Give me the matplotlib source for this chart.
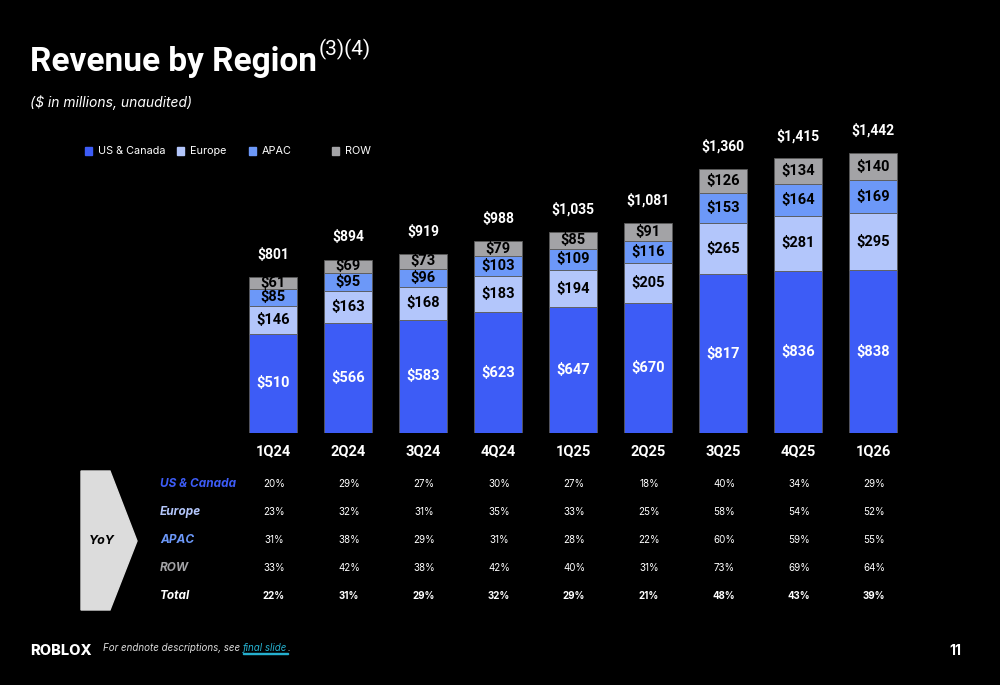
import matplotlib
matplotlib.use('Agg')
import matplotlib.pyplot as plt
from matplotlib.patches import Polygon
import numpy as np

# ---------------------------------------------
# Datos
# ---------------------------------------------
quarters = ['1Q24', '2Q24', '3Q24', '4Q24', '1Q25', '2Q25', '3Q25', '4Q25', '1Q26']
us_canada = [510, 566, 583, 623, 647, 670, 817, 836, 838]
europe = [146, 163, 168, 183, 194, 205, 265, 281, 295]
apac = [85, 95, 96, 103, 109, 116, 153, 164, 169]
row = [61, 69, 73, 79, 85, 91, 126, 134, 140]
totals = [801, 894, 919, 988, 1035, 1081, 1360, 1415, 1442]

yoy_labels = ['US & Canada', 'Europe', 'APAC', 'ROW', 'Total']
yoy_us = [20, 29, 27, 30, 27, 18, 40, 34, 29]
yoy_europe = [23, 32, 31, 35, 33, 25, 58, 54, 52]
yoy_apac = [31, 38, 29, 31, 28, 22, 60, 59, 55]
yoy_row = [33, 42, 38, 42, 40, 31, 73, 69, 64]
yoy_total = [22, 31, 29, 32, 29, 21, 48, 43, 39]

C_US = '#3D5CF6'
C_EU = '#B3C6FB'
C_APAC = '#6C98F8'
C_ROW = '#A3A3A6'

NARROW = ['Roboto', 'DejaVu Sans']
plt.rcParams['font.family'] = ['Inter', 'DejaVu Sans']

W, H = 1000, 685
fig = plt.figure(figsize=(W / 100, H / 100), dpi=100, facecolor='black')

def fx(px):
    return px / W

def fy(py):
    return 1 - py / H

# ---------------------------------------------
# Barras apiladas
# ---------------------------------------------
ax_left, ax_right = 235.5, 910.5
ax_bottom, ax_top = 433, 122.3
ax = fig.add_axes([fx(ax_left), fy(ax_bottom), fx(ax_right - ax_left), (ax_bottom - ax_top) / H])
ax.set_facecolor('black')
ax.set_xlim(-0.5, 8.5)
ax.set_ylim(0, 1600)
ax.axis('off')

x = np.arange(len(quarters))
bw = 0.65
series = [(us_canada, C_US, 'white'), (europe, C_EU, 'black'),
          (apac, C_APAC, 'black'), (row, C_ROW, 'black')]
bottom = np.zeros(len(quarters))
for vals, col, tcol in series:
    vals = np.array(vals)
    ax.bar(x, vals, bw, bottom=bottom, color=col, edgecolor='#5a5a5a', linewidth=0.6)
    for xi, b, v in zip(x, bottom, vals):
        ax.text(xi, b + v / 2, f'${v}', ha='center', va='center', color=tcol,
                fontsize=10.5, fontweight='bold', family=NARROW)
    bottom += vals

for xi, top, t in zip(x, bottom, totals):
    ax.annotate(f'${t:,}', (xi, top), xytext=(0, 16), textcoords='offset points',
                ha='center', va='center', color='white', fontsize=10,
                fontweight='bold', family=NARROW)

for xi, q in zip(x, quarters):
    ax.annotate(q, (xi, 0), xytext=(0, -13), textcoords='offset points',
                ha='center', va='center', color='white', fontsize=10.5,
                fontweight='bold', family=NARROW)

# ---------------------------------------------
# Leyenda
# ---------------------------------------------
leg_items = [('US & Canada', C_US, 88), ('Europe', C_EU, 180),
             ('APAC', C_APAC, 252), ('ROW', C_ROW, 335)]
for name, col, px in leg_items:
    fig.patches.append(plt.Rectangle((fx(px - 3.5), fy(155)), fx(7), 8 / H,
                                     transform=fig.transFigure, color=col))
    fig.text(fx(px + 10), fy(151), name, color='white', fontsize=7.8,
             va='center', ha='left')

# ---------------------------------------------
# Titulo
# ---------------------------------------------
title = fig.text(fx(30), fy(62), 'Revenue by Region', color='white', fontsize=24,
                 fontweight='bold', va='center', ha='left', family=NARROW)
fig.canvas.draw()
tb = title.get_window_extent()
fig.text(tb.x1 / W + fx(2), fy(49), '(3)(4)', color='white', fontsize=15,
         va='center', ha='left', family=NARROW)
fig.text(fx(30), fy(102), '($ in millions, unaudited)', color='white',
         fontsize=10, style='italic', va='center', ha='left')

# ---------------------------------------------
# Tabla YoY
# ---------------------------------------------
arrow = Polygon([(fx(81), fy(471)), (fx(110), fy(471)), (fx(137), fy(541)),
                 (fx(110), fy(610)), (fx(81), fy(610))],
                closed=True, transform=fig.transFigure, color='#DCDCDC')
fig.patches.append(arrow)
fig.text(fx(102), fy(541), 'YoY', color='black', fontsize=9,
         fontweight='bold', style='italic', ha='center', va='center')

yoy_rows = [yoy_us, yoy_europe, yoy_apac, yoy_row, yoy_total]
row_colors = [C_US, C_EU, C_APAC, '#A3A3A6', 'white']
row_y = [484, 512, 540, 568, 596]
col_x = [ax_left + (xi + 0.5) * (ax_right - ax_left) / 9 for xi in x]
for lab, vals, col, py in zip(yoy_labels, yoy_rows, row_colors, row_y):
    fig.text(fx(160), fy(py), lab, color=col, fontsize=8.5, fontweight='bold',
             style='italic', ha='left', va='center')
    is_total = lab == 'Total'
    for cx, v in zip(col_x, vals):
        fig.text(fx(cx + 1), fy(py), f'{v}%', color='white', fontsize=7,
                 fontweight='bold' if is_total else 'normal',
                 ha='center', va='center')

# ---------------------------------------------
# Pie de pagina
# ---------------------------------------------
fig.text(fx(30), fy(651), 'ROBLOX', color='white', fontsize=10.5,
         fontweight='heavy', ha='left', va='center')
t1 = fig.text(fx(103), fy(648), 'For endnote descriptions, see', color='#DDDDDD',
              fontsize=7, style='italic', ha='left', va='center')
fig.canvas.draw()
bb = t1.get_window_extent()
t2 = fig.text(bb.x1 / W + fx(3), fy(648), 'final slide', color='#25B0CF', fontsize=7,
              style='italic', ha='left', va='center')
fig.canvas.draw()
bb2 = t2.get_window_extent()
fig.text(bb2.x1 / W, fy(648), '.', color='#DDDDDD', fontsize=7, style='italic',
         ha='left', va='center')
fig.patches.append(plt.Rectangle((bb2.x0 / W, fy(653.5)), (bb2.x1 - bb2.x0) / W, 0.8 / H,
                                 transform=fig.transFigure, color='#25B0CF'))
fig.text(fx(955), fy(651), '11', color='white', fontsize=10, fontweight='bold',
         ha='center', va='center')

fig.savefig('out.png', dpi=100, facecolor='black')
